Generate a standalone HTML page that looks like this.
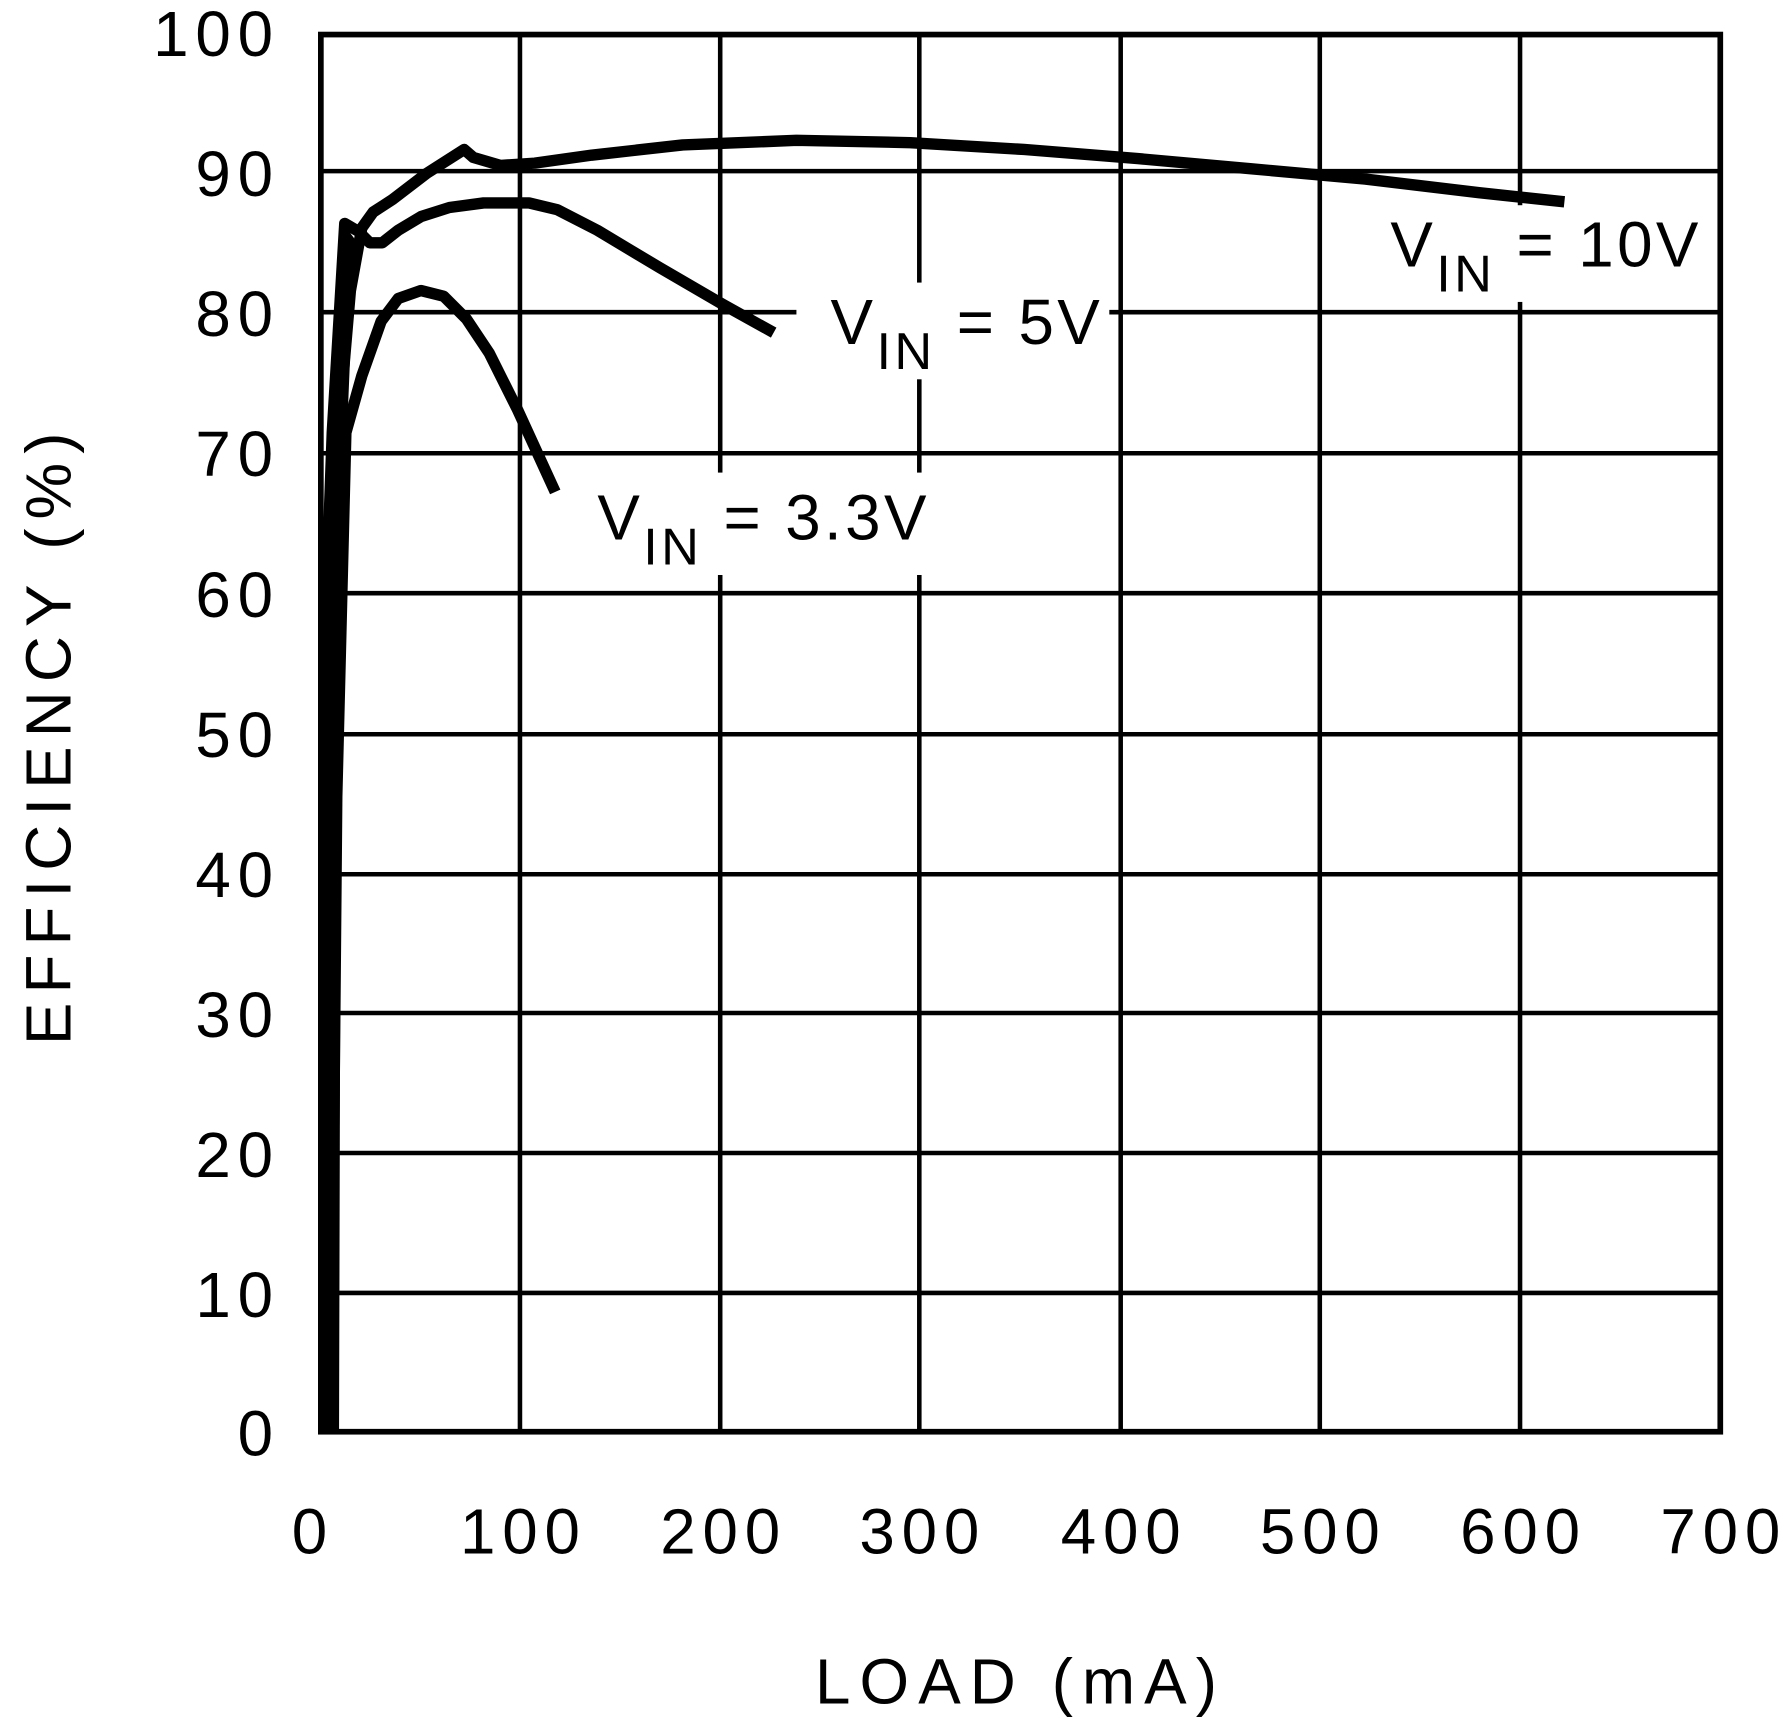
<!DOCTYPE html>
<html><head><meta charset="utf-8"><style>
html,body{margin:0;padding:0;background:#fff;}
svg{display:block;}
text{font-family:"Liberation Sans",sans-serif;fill:#000;}
</style></head><body>
<svg width="1784" height="1720" viewBox="0 0 1568 1511" xmlns="http://www.w3.org/2000/svg">
<rect width="1568" height="1511" fill="#fff"/>
<g stroke="#000" stroke-width="4" fill="none">
<line x1="457" y1="30" x2="457" y2="1258"/>
<line x1="633" y1="30" x2="633" y2="1258"/>
<line x1="808" y1="30" x2="808" y2="1258"/>
<line x1="985" y1="30" x2="985" y2="1258"/>
<line x1="1160" y1="30" x2="1160" y2="1258"/>
<line x1="1336" y1="30" x2="1336" y2="1258"/>
<line x1="282" y1="150" x2="1512" y2="150"/>
<line x1="282" y1="274" x2="1512" y2="274"/>
<line x1="282" y1="398" x2="1512" y2="398"/>
<line x1="282" y1="521" x2="1512" y2="521"/>
<line x1="282" y1="645" x2="1512" y2="645"/>
<line x1="282" y1="768" x2="1512" y2="768"/>
<line x1="282" y1="890" x2="1512" y2="890"/>
<line x1="282" y1="1013" x2="1512" y2="1013"/>
<line x1="282" y1="1136" x2="1512" y2="1136"/>
</g>
<rect x="282" y="30" width="1230" height="1228" stroke="#000" stroke-width="5" fill="none"/>
<rect x="700" y="248" width="275" height="85" fill="#fff"/>
<rect x="515" y="415" width="300" height="90" fill="#fff"/>
<rect x="1215" y="180" width="280" height="85" fill="#fff"/>
<g stroke="#000" stroke-width="10" fill="none" stroke-linejoin="round">
<path d="M290,1258 L292,600 L299,360 L308,255 L318,200 L328,186 L345,175 L375,152 L408,131 L416,138 L440,145 L470,143 L520,136 L600,127 L700,123 L800,125 L900,131 L1000,139 L1100,148 L1200,157 L1300,169 L1375,177"/>
<path d="M288,1258 L287,520 L292,380 L303,196 L315,203 L325,213 L336,213 L350,202 L370,190 L395,182 L425,178 L465,178 L490,184 L525,202 L580,235 L635,267 L680,292"/>
<path d="M291,1258 L296,700 L304,380 L318,330 L335,282 L350,262 L370,255 L390,260 L410,280 L430,310 L455,360 L488,432"/>
</g>
<path d="M285,1258 L288,600 L296,400 L303,198 L312,210 L300,500 L298,1258 Z" fill="#000"/>
<g font-size="56" text-anchor="end" letter-spacing="6">
<text x="246" y="49">100</text>
<text x="246" y="172">90</text>
<text x="246" y="295">80</text>
<text x="246" y="418">70</text>
<text x="246" y="542">60</text>
<text x="246" y="665">50</text>
<text x="246" y="788">40</text>
<text x="246" y="911">30</text>
<text x="246" y="1034">20</text>
<text x="246" y="1157">10</text>
<text x="246" y="1279">0</text>
</g>
<g font-size="56" text-anchor="middle" letter-spacing="6">
<text x="275" y="1365">0</text>
<text x="460" y="1365">100</text>
<text x="636" y="1365">200</text>
<text x="811" y="1365">300</text>
<text x="988" y="1365">400</text>
<text x="1163" y="1365">500</text>
<text x="1339" y="1365">600</text>
<text x="1515" y="1365">700</text>
<text x="897" y="1497" letter-spacing="8">LOAD (mA)</text>
<text transform="translate(62,645) rotate(-90)" letter-spacing="8">EFFICIENCY (%)</text>
</g>
<g font-size="56" letter-spacing="3">
<text x="730" y="302">V<tspan font-size="46" dy="22">IN</tspan><tspan dy="-22"> = 5V</tspan></text>
<text x="525" y="474">V<tspan font-size="46" dy="22">IN</tspan><tspan dy="-22"> = 3.3V</tspan></text>
<text x="1222" y="234">V<tspan font-size="46" dy="22">IN</tspan><tspan dy="-22"> = 10V</tspan></text>
</g>
</svg>
</body></html>
